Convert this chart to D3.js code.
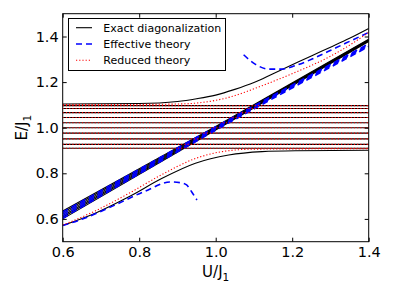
<!DOCTYPE html>
<html>
<head>
<meta charset="utf-8">
<script src="https://cdn.jsdelivr.net/npm/d3@7"></script>
<style>
  body { margin: 0; background: #fff; }
  svg { display: block; font-family: 'DejaVu Sans', sans-serif; }
</style>
</head>
<body>
<svg id="chart"></svg>
<script>
// axis ticks
const uTicks = [0.6, 0.8, 1.0, 1.2, 1.4];
const eTicks = [0.6, 0.8, 1.0, 1.2, 1.4];

// flat band of levels (exact + reduced theory)
const bandU = [0.6, 1.4];
const bandLevels = [1.097, 1.084, 1.066, 1.045, 1.022, 1.0, 0.976, 0.951, 0.927, 0.910];

// diagonal bundle E ~ U
const diagU = [0.6, 1.0, 1.4];
const exactDiag = [
  [0.600, 0.990, 1.378],
  [0.607, 0.993, 1.380],
  [0.614, 0.996, 1.382],
  [0.621, 0.999, 1.384],
  [0.628, 1.002, 1.386],
  [0.635, 1.005, 1.388]
];
const effectiveDiag = [
  [0.603, 0.989, 1.356],
  [0.612, 0.994, 1.360],
  [0.621, 0.999, 1.364],
  [0.630, 1.004, 1.368]
];

// exact diagonalization, upper and lower branches
const exactUpperU = [0.6, 0.8, 0.9, 0.95, 1.0, 1.05, 1.1, 1.15, 1.2, 1.25, 1.3, 1.35, 1.4];
const exactUpperE = [1.104, 1.106, 1.115, 1.127, 1.143, 1.168, 1.198, 1.237, 1.276, 1.315, 1.353, 1.392, 1.435];
const exactLowerU = [0.6, 0.685, 0.773, 0.86, 0.947, 1.034, 1.121, 1.208, 1.4];
const exactLowerE = [0.571, 0.625, 0.697, 0.778, 0.844, 0.880, 0.895, 0.899, 0.901];

// effective theory branches
const effLowerU = [0.6, 0.65, 0.729, 0.816, 0.881, 0.91, 0.924, 0.937, 0.951];
const effLowerE = [0.571, 0.598, 0.655, 0.722, 0.762, 0.758, 0.749, 0.719, 0.683];
const effUpperU = [1.073, 1.103, 1.139, 1.173, 1.208, 1.252, 1.295, 1.339, 1.4];
const effUpperE = [1.32, 1.279, 1.257, 1.257, 1.272, 1.301, 1.335, 1.37, 1.418];

// reduced theory branches
const redUpperU = [0.6, 0.8, 0.9, 0.95, 1.0, 1.034, 1.121, 1.208, 1.295, 1.35, 1.4];
const redUpperE = [1.101, 1.102, 1.104, 1.108, 1.120, 1.133, 1.184, 1.243, 1.309, 1.362, 1.418];
const redLowerU = [0.6, 0.685, 0.773, 0.86, 0.947, 1.0, 1.05, 1.1, 1.4];
const redLowerE = [0.573, 0.635, 0.712, 0.795, 0.865, 0.890, 0.902, 0.906, 0.908];

const legendLabels = ['Exact diagonalization', 'Effective theory', 'Reduced theory'];

const W = 395, H = 296;
const margin = { top: 13.7, right: 26.3, bottom: 54.3, left: 62.7 };

const svg = d3.select('#chart').attr('width', W).attr('height', H);

const x = d3.scaleLinear().domain([0.6, 1.4]).range([margin.left, W - margin.right]);
const y = d3.scaleLinear().domain([0.5, 1.5]).range([H - margin.bottom, margin.top]);

const zip = (us, es) => us.map((u, i) => [u, es[i]]);

const line = d3.line()
  .x(d => x(d[0]))
  .y(d => y(d[1]))
  .curve(d3.curveMonotoneX);

svg.append('defs').append('clipPath').attr('id', 'clip')
  .append('rect')
  .attr('x', margin.left).attr('y', margin.top)
  .attr('width', W - margin.left - margin.right)
  .attr('height', H - margin.top - margin.bottom);

const plot = svg.append('g').attr('clip-path', 'url(#clip)');

const styles = {
  exact: { stroke: '#000', width: 1.1, dash: null },
  effective: { stroke: '#0000ff', width: 1.6, dash: '6,4' },
  reduced: { stroke: '#ff0000', width: 1.1, dash: '1.2,2' }
};

function draw(points, s) {
  plot.append('path')
    .datum(points)
    .attr('fill', 'none')
    .attr('stroke', s.stroke)
    .attr('stroke-width', s.width)
    .attr('stroke-dasharray', s.dash)
    .attr('d', line);
}

// exact diagonalization
bandLevels.forEach(e => draw(bandU.map(u => [u, e]), styles.exact));
exactDiag.forEach(es => draw(zip(diagU, es), styles.exact));
draw(zip(exactUpperU, exactUpperE), styles.exact);
draw(zip(exactLowerU, exactLowerE), styles.exact);

// effective theory
effectiveDiag.forEach(es => draw(zip(diagU, es), styles.effective));
draw(zip(effLowerU, effLowerE), styles.effective);
draw(zip(effUpperU, effUpperE), styles.effective);

// reduced theory
bandLevels.forEach(e => draw(bandU.map(u => [u, e]), styles.reduced));
draw(zip(redUpperU, redUpperE), styles.reduced);
draw(zip(redLowerU, redLowerE), styles.reduced);

// axes, ticks pointing inward
const fmt = d3.format('.1f');
const tickFont = g => g.selectAll('text')
  .attr('font-family', 'DejaVu Sans').attr('font-size', 14.5).attr('fill', '#000');

svg.append('g')
  .attr('transform', `translate(0,${H - margin.bottom})`)
  .call(d3.axisBottom(x).tickValues(uTicks).tickSize(-4).tickPadding(5).tickFormat(fmt))
  .call(g => g.select('.domain').remove())
  .call(tickFont);

svg.append('g')
  .attr('transform', `translate(0,${margin.top})`)
  .call(d3.axisTop(x).tickValues(uTicks).tickSize(-4).tickFormat(''))
  .call(g => g.select('.domain').remove());

svg.append('g')
  .attr('transform', `translate(${margin.left},0)`)
  .call(d3.axisLeft(y).tickValues(eTicks).tickSize(-4).tickPadding(4).tickFormat(fmt))
  .call(g => g.select('.domain').remove())
  .call(tickFont);

svg.append('g')
  .attr('transform', `translate(${W - margin.right},0)`)
  .call(d3.axisRight(y).tickValues(eTicks).tickSize(-4).tickFormat(''))
  .call(g => g.select('.domain').remove());

svg.append('rect')
  .attr('x', margin.left).attr('y', margin.top)
  .attr('width', W - margin.left - margin.right)
  .attr('height', H - margin.top - margin.bottom)
  .attr('fill', 'none')
  .attr('stroke', '#000')
  .attr('stroke-width', 1);

// axis labels
const xl = svg.append('text')
  .attr('x', (margin.left + W - margin.right) / 2)
  .attr('y', 277)
  .attr('text-anchor', 'middle')
  .attr('font-size', 15)
  .attr('fill', '#000');
xl.append('tspan').text('U/J');
xl.append('tspan').attr('font-size', 10.5).attr('dy', 3.5).text('1');

const yl = svg.append('text')
  .attr('transform', `translate(27,${(margin.top + H - margin.bottom) / 2}) rotate(-90)`)
  .attr('text-anchor', 'middle')
  .attr('font-size', 15)
  .attr('fill', '#000');
yl.append('tspan').text('E/J');
yl.append('tspan').attr('font-size', 10.5).attr('dy', 3.5).text('1');

// legend
const legend = svg.append('g');
legend.append('rect')
  .attr('x', 68.5).attr('y', 18.5)
  .attr('width', 157).attr('height', 52)
  .attr('fill', '#fff')
  .attr('stroke', '#000')
  .attr('stroke-width', 1);

const legendStyles = [styles.exact, styles.effective, styles.reduced];
legendLabels.forEach((label, i) => {
  const ly = 27.7 + i * 16.3;
  const s = legendStyles[i];
  legend.append('line')
    .attr('x1', 76).attr('x2', 92)
    .attr('y1', ly).attr('y2', ly)
    .attr('stroke', s.stroke)
    .attr('stroke-width', s.width)
    .attr('stroke-dasharray', s.dash);
  legend.append('text')
    .attr('x', 103.3).attr('y', ly)
    .attr('dy', '0.36em')
    .attr('font-size', 11)
    .attr('fill', '#000')
    .text(label);
});
</script>
</body>
</html>
